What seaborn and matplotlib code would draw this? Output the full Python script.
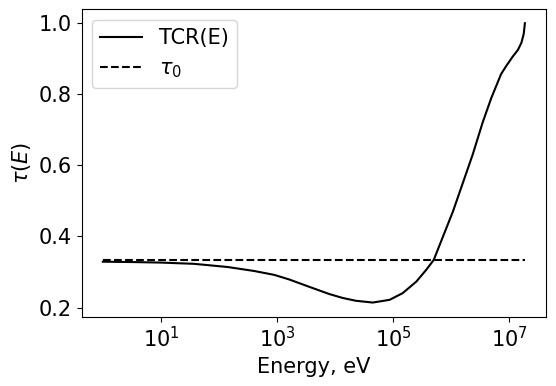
import numpy as np
import pandas as pd
import matplotlib
matplotlib.use("Agg")
import matplotlib.pyplot as plt
import seaborn as sns

# Values (log10 of energy in eV, and tau)
log_energy = [0.0, 0.5, 1.0, 1.57, 2.15, 2.6, 2.95, 3.21, 3.56, 3.90, 4.13,
              4.36, 4.65, 4.94, 5.165, 5.40, 5.57, 5.70, 5.855, 6.03, 6.2,
              6.37, 6.545, 6.69, 6.86, 6.95, 7.06, 7.15, 7.21, 7.25, 7.27]
tcr = [0.329, 0.328, 0.3265, 0.323, 0.314, 0.303, 0.292, 0.279, 0.258, 0.238,
       0.227, 0.219, 0.214, 0.2217, 0.2405, 0.273, 0.306, 0.334, 0.398, 0.47,
       0.55, 0.630, 0.722, 0.789, 0.857, 0.880, 0.906, 0.925, 0.945, 0.970, 1.0]
tau0 = 0.3333
tau0_range = [1.0, 1.86e7]

energy = [10 ** v for v in log_energy]
df = pd.DataFrame({"E": energy, "tau": tcr})
df0 = pd.DataFrame({"E": tau0_range, "tau": [tau0, tau0]})

plt.rcParams["font.family"] = ["DejaVu Sans"]
fig = plt.figure(figsize=(5.56, 3.86), dpi=100)
ax = fig.add_axes([0.147, 0.180, 0.835, 0.796])

sns.lineplot(data=df, x="E", y="tau", color="black", linewidth=1.5,
             label="TCR(E)", ax=ax, estimator=None, sort=False)
sns.lineplot(data=df0, x="E", y="tau", color="black", linewidth=1.5,
             linestyle="--", label=r"$\tau_0$", ax=ax, estimator=None)

ax.set_xscale("log")
ax.set_xlabel("Energy, eV", fontsize=15)
ax.set_ylabel(r"$\tau(E)$", fontsize=15)
ax.set_yticks([0.2, 0.4, 0.6, 0.8, 1.0])
ax.tick_params(labelsize=15)
ax.legend(loc="upper left", fontsize=15)

fig.savefig("out.png", dpi=100)
